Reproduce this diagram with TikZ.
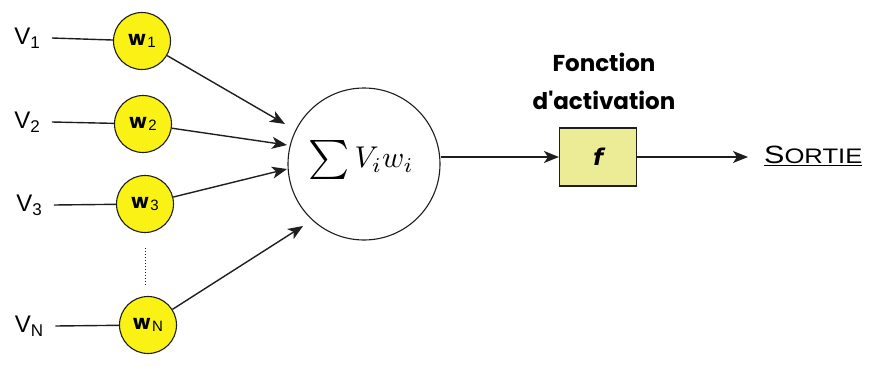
\documentclass[tikz,border=0pt]{standalone}
\usepackage{amsmath}
\usepackage{fontspec}
\usepackage{graphicx}
\setmainfont{Liberation Sans}
\newfontfamily\boldlab{Poppins}
\newfontfamily\dvs{DejaVu Sans}
\usetikzlibrary{arrows.meta}
\definecolor{wyellow}{RGB}{250,242,20}
\definecolor{boxfill}{RGB}{236,236,150}
\definecolor{inkline}{RGB}{30,30,30}
\tikzset{
  vlab/.style={inner sep=0pt, anchor=center, font=\fontsize{24}{26}\selectfont},
  wnode/.style={circle, draw=inkline, line width=1.1pt, fill=wyellow, minimum size=57pt, inner sep=0pt},
  link/.style={draw=inkline, line width=1.4pt},
  arr/.style={link, -{Stealth[length=15pt,width=12pt,inset=4pt]}},
  sumnode/.style={circle, draw=inkline, line width=1.1pt, fill=white, minimum size=152pt, inner sep=0pt},
  fbox/.style={draw=inkline, line width=1.1pt, fill=boxfill, minimum width=77pt, minimum height=58pt, inner sep=0pt},
  titlelab/.style={inner sep=0pt, font=\boldlab\bfseries\fontsize{23}{25}\selectfont}
}
\newcommand{\wlab}[1]{{\boldlab\bfseries\fontsize{20}{20}\selectfont w}\,\raisebox{-0.35ex}{\fontsize{15}{16}\selectfont #1}}
\newcommand{\vlabtxt}[1]{V\raisebox{-0.3ex}{\fontsize{17}{18}\selectfont #1}}
\begin{document}
\begin{tikzpicture}[x=1pt,y=-1pt]
\useasboundingbox (0,0) rectangle (871,369);
% inputs
\node[vlab] (v1) at (27,38) {\vlabtxt{1}};
\node[vlab] (v2) at (27,122) {\vlabtxt{2}};
\node[vlab] (v3) at (29,205) {\vlabtxt{3}};
\node[vlab] (vn) at (29,326) {\vlabtxt{N}};
\node[wnode] (w1) at (142,41) {\wlab{1}};
\node[wnode] (w2) at (143,124) {\wlab{2}};
\node[wnode] (w3) at (145,204) {\wlab{3}};
\node[wnode] (wn) at (148,325) {\wlab{N}};
\draw[link] (v1.east) ++(12,0) coordinate (v1e) -- (w1);
\draw[link] (v2.east) ++(12,0) coordinate (v2e) -- (w2);
\draw[link] (v3.east) ++(12,0) coordinate (v3e) -- (w3);
\draw[link] (vn.east) ++(12,0) coordinate (vne) -- (wn);
% dots
\coordinate (d1) at (145,248);
\coordinate (d2) at (145,286);
\draw[inkline, line width=1pt, dotted] (d1) -- (d2);
% summation
\node[sumnode] (sum) at (364,164) {};
\node[inner sep=0pt] (sumtxt) at (361,160) {\scalebox{3.0}{$\mathop{\raisebox{-0.12ex}{\scalebox{1.3}{$\textstyle\sum$}}}V_i w_i$}};
\coordinate (t1) at (285,124);
\coordinate (t2) at (287,145);
\coordinate (t3) at (287,169);
\coordinate (t4) at (303,226);
\draw[arr] (w1) -- (t1);
\draw[arr] (w2) -- (t2);
\draw[arr] (w3) -- (t3);
\draw[arr] (wn) -- (t4);
% activation
\node[fbox] (f) at (598,157) {\dvs\bfseries\itshape\fontsize{23}{24}\selectfont f};
\node[titlelab] (t_a) at (604,62) {Fonction};
\node[titlelab] (t_b) at (604,100) {d'activation};
\draw[arr] (sum.east |- f.west) -- (f.west);
\coordinate (outend) at (748,157);
\draw[arr] (f.east) -- (outend);
\node[inner sep=0pt, anchor=west] (sortie) at (764,156) {\underline{\scalebox{1.22}[1]{{\fontsize{25}{26}\selectfont S}{\fontsize{21}{22}\selectfont ORTIE}}}};
\end{tikzpicture}
\end{document}
